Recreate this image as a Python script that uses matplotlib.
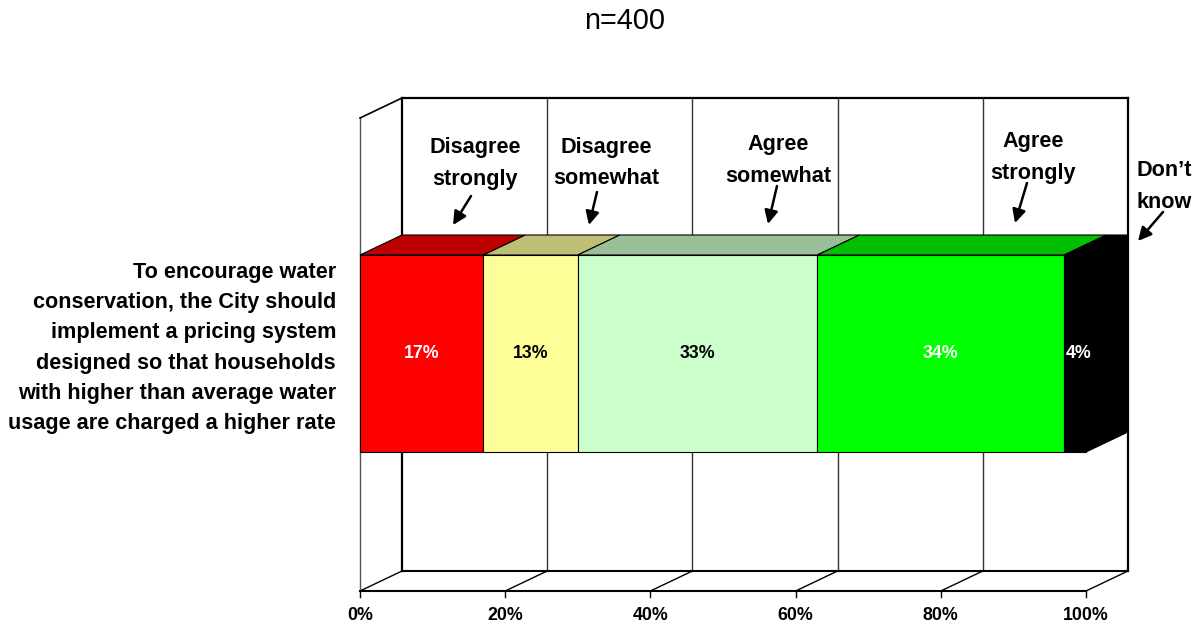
import matplotlib.pyplot as plt
import numpy as np
from matplotlib.colors import to_rgb
from matplotlib.patches import Polygon

# ---- data ----
categories = ['Disagree\nstrongly', 'Disagree\nsomewhat', 'Agree\nsomewhat', 'Agree\nstrongly', 'Don\u2019t\nknow']
values = [17, 13, 33, 34, 4]
value_labels = ['17%', '13%', '33%', '34%', '4%']
colors = ['#FF0000', '#FFFF99', '#CCFFCC', '#00FF00', '#000000']
label_colors = ['white', 'black', 'black', 'white', 'white']
ticks = [0, 20, 40, 60, 80, 100]
tick_labels = ['0%', '20%', '40%', '60%', '80%', '100%']
question = ('To encourage water\nconservation, the City should\nimplement a pricing system\n'
            'designed so that households\nwith higher than average water\nusage are charged a higher rate')
title = 'n=400'

# ---- layout (pixels) ----
W, H = 1197, 626
X0 = 360            # x pixel of 0%
SCALE = 7.26        # pixels per percent
DX = 42 / SCALE     # 3d depth, in percent units
DY = 20             # 3d depth, in pixels
floor_y = 591
wall_top = 118
bar_top, bar_bot = 255, 452

BOLD = ['Liberation Sans', 'DejaVu Sans']


def px(x):
    return (x - X0) / SCALE


def darker(c, f=0.75):
    return tuple(np.array(to_rgb(c)) * f)


fig = plt.figure(figsize=(W / 100, H / 100), dpi=100)
ax = fig.add_axes([0, 0, 1, 1])
ax.set_xlim(px(0), px(W))
ax.set_ylim(H, 0)
ax.axis('off')

# walls
ax.plot([0, 0], [floor_y, wall_top], color='#555555', lw=1, zorder=1)
ax.plot([0, DX], [wall_top, wall_top - DY], color='black', lw=1.2, zorder=1)
ax.plot([DX, DX], [floor_y - DY, wall_top - DY], color='black', lw=1.6, zorder=1)
ax.plot([DX, 100 + DX], [wall_top - DY] * 2, color='black', lw=1.6, zorder=1)
ax.plot([100 + DX] * 2, [floor_y - DY, wall_top - DY], color='black', lw=1.6, zorder=1)
for t in ticks[1:-1]:
    ax.plot([t + DX] * 2, [floor_y - DY, wall_top - DY], color='#333333', lw=1, zorder=1)

# floor
ax.plot([0, 100], [floor_y] * 2, color='black', lw=1.5, zorder=1)
ax.plot([DX, 100 + DX], [floor_y - DY] * 2, color='black', lw=1.5, zorder=1)
for t in ticks:
    ax.plot([t, t + DX], [floor_y, floor_y - DY], color='black', lw=1, zorder=1)
    ax.plot([t, t], [floor_y, floor_y + 6], color='black', lw=1, zorder=1)
for t, lab in zip(ticks, tick_labels):
    ax.text(t, 615, lab, ha='center', va='center', fontsize=12.8, fontweight='bold', family=BOLD)

# stacked 3d bar
lefts = np.concatenate([[0], np.cumsum(values)[:-1]])
rights = np.minimum(lefts + np.array(values), 100)
ax.barh((bar_top + bar_bot) / 2, rights - lefts, left=lefts, height=bar_bot - bar_top,
        color=colors, edgecolor='black', linewidth=0.8, zorder=3)
for l, r, c in zip(lefts, rights, colors):
    ax.add_patch(Polygon([(l, bar_top), (l + DX, bar_top - DY), (r + DX, bar_top - DY), (r, bar_top)],
                         closed=True, fc=darker(c), ec='black', lw=0.8, zorder=3))
end = rights[-1]
ax.add_patch(Polygon([(end, bar_bot), (end + DX, bar_bot - DY), (end + DX, bar_top - DY), (end, bar_top)],
                     closed=True, fc=darker(colors[-1], 0.6), ec='black', lw=0.8, zorder=3))
for l, v, lab, tc in zip(lefts, values, value_labels, label_colors):
    ax.text(l + v / 2, (bar_top + bar_bot) / 2, lab, ha='center', va='center', color=tc,
            fontsize=12.8, fontweight='bold', family=BOLD, zorder=5)

# category call-outs: text centre x, first baseline, arrow start, arrow end (pixels)
callouts = [
    (475, 153, (471, 196), (453, 225)),
    (606, 153, (597, 192), (589, 225)),
    (778, 150, (777, 186), (768, 224)),
    (1033, 147, (1027, 183), (1015, 223)),
    (1164, 176, (1163, 212), (1138, 241)),
]
for cat, (cx, base, p0, p1) in zip(categories, callouts):
    for i, line in enumerate(cat.split('\n')):
        ax.text(px(cx), base + i * 31.5, line, ha='center', va='baseline', fontsize=15.6,
                fontweight='bold', family=BOLD, zorder=5)
    ax.annotate('', xy=(px(p1[0]), p1[1]), xytext=(px(p0[0]), p0[1]),
                arrowprops=dict(arrowstyle='-|>', color='black', lw=1.8, mutation_scale=20,
                                shrinkA=0, shrinkB=0), zorder=5)

# question label and title
ax.text(px(336), 348, question, ha='right', va='center', fontsize=15.6, fontweight='bold',
        family=BOLD, linespacing=1.58)
ax.text(px(625), 21, title, ha='center', va='center', fontsize=20.8,
        family=['Liberation Sans', 'DejaVu Sans'])

plt.savefig('out.png', dpi=100)
